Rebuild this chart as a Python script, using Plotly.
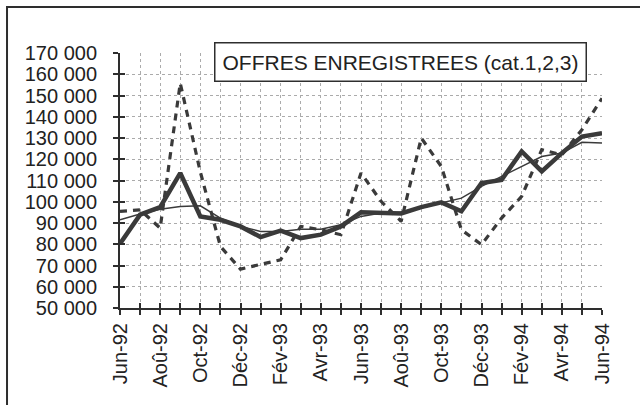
import plotly.graph_objects as go

months = ["Jun-92", "Jul-92", "Aoû-92", "Sep-92", "Oct-92", "Nov-92", "Déc-92",
          "Jan-93", "Fév-93", "Mar-93", "Avr-93", "Mai-93", "Jun-93", "Jul-93",
          "Aoû-93", "Sep-93", "Oct-93", "Nov-93", "Déc-93", "Jan-94", "Fév-94",
          "Mar-94", "Avr-94", "Mai-94", "Jun-94"]

# seasonally adjusted (thick line)
cvs = [80200, 93900, 97500, 113500, 93100, 91500, 88400, 83400, 86400, 82900,
       84500, 88400, 95000, 94500, 94500, 97500, 99700, 95500, 108800, 110300,
       123700, 114300, 122900, 130700, 132300]
# raw (dashed line)
brut = [95500, 96200, 87600, 155800, 114000, 79000, 68300, 70400, 72700, 88400,
        86800, 84500, 113500, 100200, 90800, 130000, 116600, 86800, 79800, 92300,
        102500, 124500, 122100, 133900, 148700]
# trend (thin line)
tendance = [91500, 94200, 96500, 97800, 98100, 92300, 88400, 86000, 86000, 87100,
            87100, 89200, 93100, 94700, 95000, 97000, 99400, 101700, 107200, 111900,
            116600, 121300, 122900, 128000, 127600]

y_ticks = list(range(50000, 170001, 10000))
title_text = "OFFRES ENREGISTREES (cat.1,2,3)"

idx = list(range(len(months)))
ticktext = [m if i % 2 == 0 else "" for i, m in enumerate(months)]
ink = "#2e2e2e"
grid = "#ababab"

fig = go.Figure()
fig.add_trace(go.Scatter(x=idx, y=brut, mode="lines",
                         line=dict(color="#3a3a3a", width=3.2, dash="7px,6px")))
fig.add_trace(go.Scatter(x=idx, y=tendance, mode="lines",
                         line=dict(color="#3a3a3a", width=1.5)))
fig.add_trace(go.Scatter(x=idx, y=cvs, mode="lines",
                         line=dict(color="#3a3a3a", width=4.5)))
# invisible trace to anchor the overlay axes (cross ticks)
fig.add_trace(go.Scatter(x=idx, y=cvs, mode="lines", xaxis="x2", yaxis="y2",
                         line=dict(width=0), opacity=0, hoverinfo="skip"))

fig.update_layout(
    width=640, height=405,
    margin=dict(l=120, r=38, t=53, b=97, autoexpand=False),
    paper_bgcolor="white", plot_bgcolor="white",
    showlegend=False,
    separators=", ",
    font=dict(family="Liberation Sans, Arial, sans-serif", size=20, color="#222"),
    xaxis=dict(range=[0, 24], tickvals=idx, ticktext=ticktext, tickangle=-90,
               ticks="outside", ticklen=5, tickwidth=1.5, tickcolor=ink,
               showline=True, linecolor=ink, linewidth=2, automargin=False,
               showgrid=True, gridcolor=grid, gridwidth=1, griddash="dot",
               zeroline=False, tickfont=dict(size=20)),
    yaxis=dict(range=[50000, 170000], tickvals=y_ticks, tickformat=",d",
               ticks="outside", ticklen=5, tickwidth=1.5, tickcolor=ink,
               showline=True, linecolor=ink, linewidth=2, automargin=False,
               showgrid=True, gridcolor=grid, gridwidth=1, griddash="dot",
               zeroline=False, ticklabelstandoff=12, tickfont=dict(size=20)),
    xaxis2=dict(range=[0, 24], tickvals=idx, overlaying="x", anchor="y",
                ticks="inside", ticklen=5, tickwidth=1.5, tickcolor=ink,
                automargin=False,
                showticklabels=False, showgrid=False, zeroline=False, showline=False),
    yaxis2=dict(range=[50000, 170000], tickvals=y_ticks, overlaying="y", anchor="x",
                ticks="inside", ticklen=5, tickwidth=1.5, tickcolor=ink,
                automargin=False,
                showticklabels=False, showgrid=False, zeroline=False, showline=False),
    annotations=[dict(text=title_text, xref="paper", yref="paper",
                      x=0.582, y=0.963, xanchor="center", yanchor="middle",
                      showarrow=False, bgcolor="white", bordercolor=ink,
                      borderwidth=1.5, borderpad=7,
                      font=dict(size=21, color="#222"))],
    shapes=[dict(type="rect", xref="paper", yref="paper",
                 x0=-0.2344, x1=1.2, y0=-0.5, y1=1.1804,
                 line=dict(color=ink, width=2), layer="above")],
)

html = fig.to_html(full_html=True, include_plotlyjs=True,
                   config={"displayModeBar": False})
html = html.replace("<body>", '<body style="margin:0;padding:0;">', 1)
with open("out.html", "w", encoding="utf-8") as f:
    f.write(html)
